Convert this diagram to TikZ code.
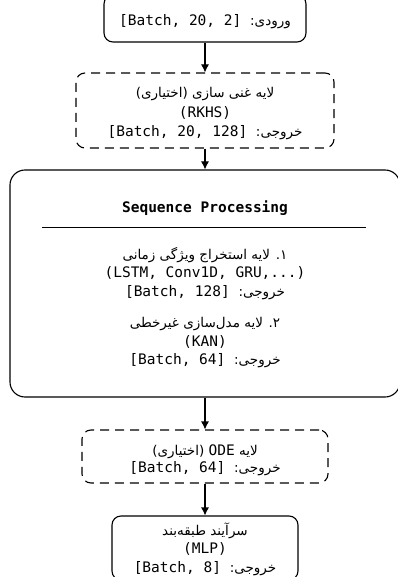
\documentclass[tikz,border=0pt]{standalone}
\usepackage{fontspec}
\setmonofont{DejaVu Sans Mono}
\newfontfamily\farsi[Script=Arabic]{DejaVu Sans}
\TeXXeTstate=1
\usetikzlibrary{arrows.meta}

% Persian text run, set right to left
\newcommand\fa[1]{{\farsi\fontsize{13.5}{15}\selectfont\beginR #1\endR}}
\newcommand\lt[1]{\beginL{\ttfamily\fontsize{14.5}{17}\selectfont #1}\endL{}}

\tikzset{
  stage/.style={draw=black, line width=1.1pt, rounded corners=9pt, inner sep=0pt},
  optional/.style={stage, dashed, dash pattern=on 9pt off 6pt},
  caption/.style={align=center, inner sep=0pt, text=black,
    font=\ttfamily\fontsize{14.5}{19.5}\selectfont},
  flow/.style={line width=1.1pt, -{Latex[length=8pt,width=8pt]}},
}

\begin{document}
\begin{tikzpicture}[x=1pt, y=-1pt]
\useasboundingbox (0,0) rectangle (398,577);

% input
\node[stage, minimum width=202pt, minimum height=47pt] (input) at (205,18.5) {};
\node[caption] (inputtext) at ([yshift=-3.5pt]input.center)
  {\texttt{[Batch, 20, 2]} \fa{ورودی:}};

% optional RKHS enrichment
\node[optional, minimum width=258pt, minimum height=75pt] (rkhs) at (205,110.5) {};
\node[caption] (rkhstext) at ([yshift=-3.5pt]rkhs.center)
  {\fa{لایه غنی سازی (اختیاری)}\\
   (RKHS)\\
   \texttt{[Batch, 20, 128]} \fa{خروجی:}};

% sequence processing block
\node[stage, rounded corners=15pt, minimum width=390pt, minimum height=227pt] (seq) at (205,283.5) {};
\node[font=\ttfamily\bfseries\fontsize{14.5}{17}\selectfont, inner sep=0pt] (seqtitle) at (205,208)
  {Sequence Processing};
\coordinate (ruleL) at (42,227);
\coordinate (ruleR) at (366,227);
\draw[line width=0.9pt] (ruleL) -- (ruleR);
\node[caption, font=\ttfamily\fontsize{14.5}{18.5}\selectfont] (seqbody) at (205,307.5)
  {\fa{۱. لایه استخراج ویژگی زمانی}\\
   (LSTM, Conv1D, GRU,...)\\
   \texttt{[Batch, 128]} \fa{خروجی:}\\[13pt]
   \fa{۲. لایه مدل‌سازی غیرخطی}\\
   (KAN)\\
   \texttt{[Batch, 64]} \fa{خروجی:}};

% optional ODE layer
\node[optional, minimum width=246pt, minimum height=53pt] (ode) at (205,456.5) {};
\node[caption, font=\ttfamily\fontsize{14.5}{17}\selectfont] (odetext) at ([yshift=-4pt]ode.center)
  {\fa{لایه \lt{ODE} (اختیاری)}\\
   \texttt{[Batch, 64]} \fa{خروجی:}};

% classifier head
\node[stage, minimum width=186pt, minimum height=64pt] (head) at (205,548) {};
\node[caption, font=\ttfamily\fontsize{14.5}{18.5}\selectfont] (headtext) at ([yshift=-1pt]head.center)
  {\fa{سرآیند طبقه‌بند}\\
   (MLP)\\
   \texttt{[Batch, 8]} \fa{خروجی:}};

\draw[flow] (input) -- (rkhs);
\draw[flow] (rkhs) -- (seq);
\draw[flow] (seq) -- (ode);
\draw[flow] (ode) -- (head);
\end{tikzpicture}
\end{document}
